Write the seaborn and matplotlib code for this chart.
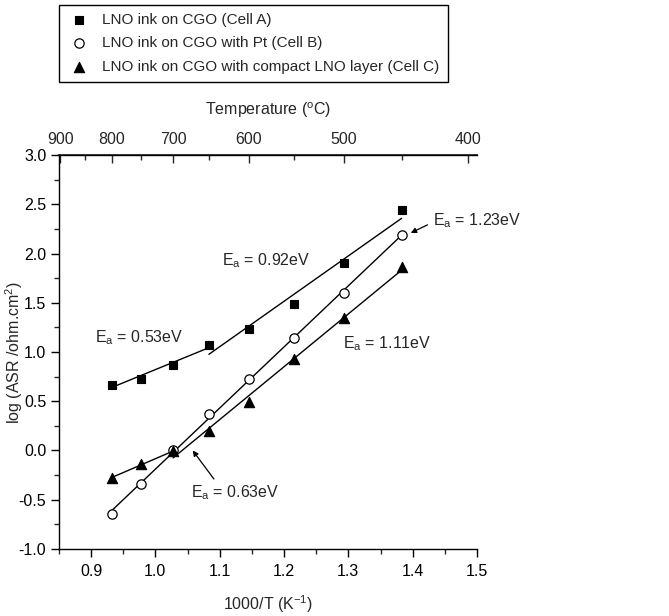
import numpy as np
import pandas as pd
import matplotlib
matplotlib.use("Agg")
import matplotlib.pyplot as plt
import seaborn as sns

# --------------------------
# Data
# --------------------------
temps_c = [800, 750, 700, 650, 600, 550, 500, 450]
asr_a = [0.67, 0.73, 0.87, 1.07, 1.23, 1.49, 1.90, 2.44]
asr_b = [-0.65, -0.34, 0.00, 0.37, 0.73, 1.14, 1.60, 2.19]
asr_c = [-0.28, -0.14, -0.01, 0.20, 0.49, 0.93, 1.35, 1.86]

labels = ["LNO ink on CGO (Cell A)",
          "LNO ink on CGO with Pt (Cell B)",
          "LNO ink on CGO with compact LNO layer (Cell C)"]

# fitted segments: (series, first index, last index)
segments = [("A", 0, 3), ("A", 3, 7), ("B", 0, 7), ("C", 0, 2), ("C", 2, 7)]

top_ticks = [900, 800, 700, 600, 500, 400]
top_minor = [850, 750, 650, 550, 450]

inv_t = 1000.0 / (np.array(temps_c) + 273.15)
df = pd.DataFrame({"x": inv_t, "A": asr_a, "B": asr_b, "C": asr_c})

# --------------------------
# Style
# --------------------------
sns.set_theme(style="ticks")
plt.rcParams["font.family"] = ["Liberation Sans", "DejaVu Sans"]
plt.rcParams["mathtext.fontset"] = "custom"
plt.rcParams["mathtext.rm"] = "Liberation Sans"
plt.rcParams["mathtext.it"] = "Liberation Sans"
fs = 11.5

fig = plt.figure(figsize=(6.69, 6.16), dpi=100)
ax = fig.add_axes([0.088, 0.109, 0.625, 0.639])

# fit lines
for s, i0, i1 in segments:
    sub = df.iloc[i0:i1 + 1]
    sns.regplot(data=sub, x="x", y=s, ax=ax, scatter=False, ci=None,
                truncate=True, color="black", line_kws={"lw": 1.0})

# markers
sns.scatterplot(data=df, x="x", y="A", ax=ax, marker="s", s=40,
                color="black", edgecolor="black", linewidth=0.8, label=labels[0], zorder=3)
sns.scatterplot(data=df, x="x", y="B", ax=ax, marker="o", s=45,
                facecolor="white", edgecolor="black", linewidth=0.9, label=labels[1], zorder=3)
sns.scatterplot(data=df, x="x", y="C", ax=ax, marker="^", s=55,
                color="black", edgecolor="black", linewidth=0.8, label=labels[2], zorder=3)

ax.set_xlim(0.85, 1.5)
ax.set_ylim(-1.0, 3.0)
ax.set_xticks(np.arange(0.9, 1.51, 0.1))
ax.set_xticks(np.arange(0.85, 1.51, 0.05), minor=True)
ax.set_yticks(np.arange(-1.0, 3.01, 0.5))
ax.set_yticks(np.arange(-1.0, 3.01, 0.25), minor=True)
ax.set_xticklabels([f"{v:.1f}" for v in np.arange(0.9, 1.51, 0.1)])
ax.set_yticklabels([f"{v:.1f}" for v in np.arange(-1.0, 3.01, 0.5)])
ax.tick_params(which="major", direction="out", length=6, width=1, labelsize=fs,
               colors="black", pad=3)
ax.tick_params(which="minor", direction="out", length=3.5, width=1)
ax.tick_params(axis="x", which="major", pad=5)
ax.spines["right"].set_visible(False)
for sp in ["left", "bottom", "top"]:
    ax.spines[sp].set_linewidth(1.0)
    ax.spines[sp].set_color("black")
ax.set_xlabel("1000/T (K$^{-1}$)", fontsize=fs, labelpad=10)
ax.set_ylabel("log (ASR /ohm.cm$^2$)", fontsize=fs)
ax.yaxis.set_label_coords(-0.082, 0.5)

# top temperature axis
sec = ax.secondary_xaxis("top", functions=(lambda x: 1000.0 / x - 273.15,
                                           lambda t: 1000.0 / (t + 273.15)))
sec.set_xticks(top_ticks)
sec.set_xticks(top_minor, minor=True)
sec.set_xticklabels([str(t) for t in top_ticks])
sec.tick_params(which="major", direction="in", length=6, width=1, labelsize=fs, pad=6)
sec.tick_params(which="minor", direction="in", length=3.5, width=1)
sec.set_xlabel("Temperature ($^{\\rm o}$C)", fontsize=fs, labelpad=12)

# activation energy labels
ax.text(0.906, 1.15, "E$_{\\rm a}$ = 0.53eV", fontsize=fs, va="center")
ax.text(1.104, 1.93, "E$_{\\rm a}$ = 0.92eV", fontsize=fs, va="center")
ax.text(1.292, 1.09, "E$_{\\rm a}$ = 1.11eV", fontsize=fs, va="center")
ax.text(1.055, -0.43, "E$_{\\rm a}$ = 0.63eV", fontsize=fs, va="center")
ax.annotate("E$_{\\rm a}$ = 1.23eV", xy=(1.397, 2.21), xytext=(1.432, 2.34),
            fontsize=fs, va="center", annotation_clip=False,
            arrowprops=dict(arrowstyle="-|>", color="black", lw=0.9,
                            mutation_scale=8, shrinkA=2, shrinkB=0,
                            relpos=(0.0, 0.4)))
ax.annotate("", xy=(1.058, 0.0), xytext=(1.091, -0.29),
            arrowprops=dict(arrowstyle="-|>", color="black", lw=0.9,
                            mutation_scale=8, shrinkA=0, shrinkB=0))

# legend above the plot
handles, labs = ax.get_legend_handles_labels()
ax.legend_.remove()
leg = fig.legend(handles, labs, loc="upper left", bbox_to_anchor=(0.088, 0.992),
                 fontsize=11, frameon=True, fancybox=False, framealpha=1,
                 edgecolor="black", handletextpad=0.8, labelspacing=0.6,
                 borderpad=0.55, handlelength=1.5, borderaxespad=0)
leg.get_frame().set_linewidth(1.0)

fig.savefig("out.png", dpi=100)
